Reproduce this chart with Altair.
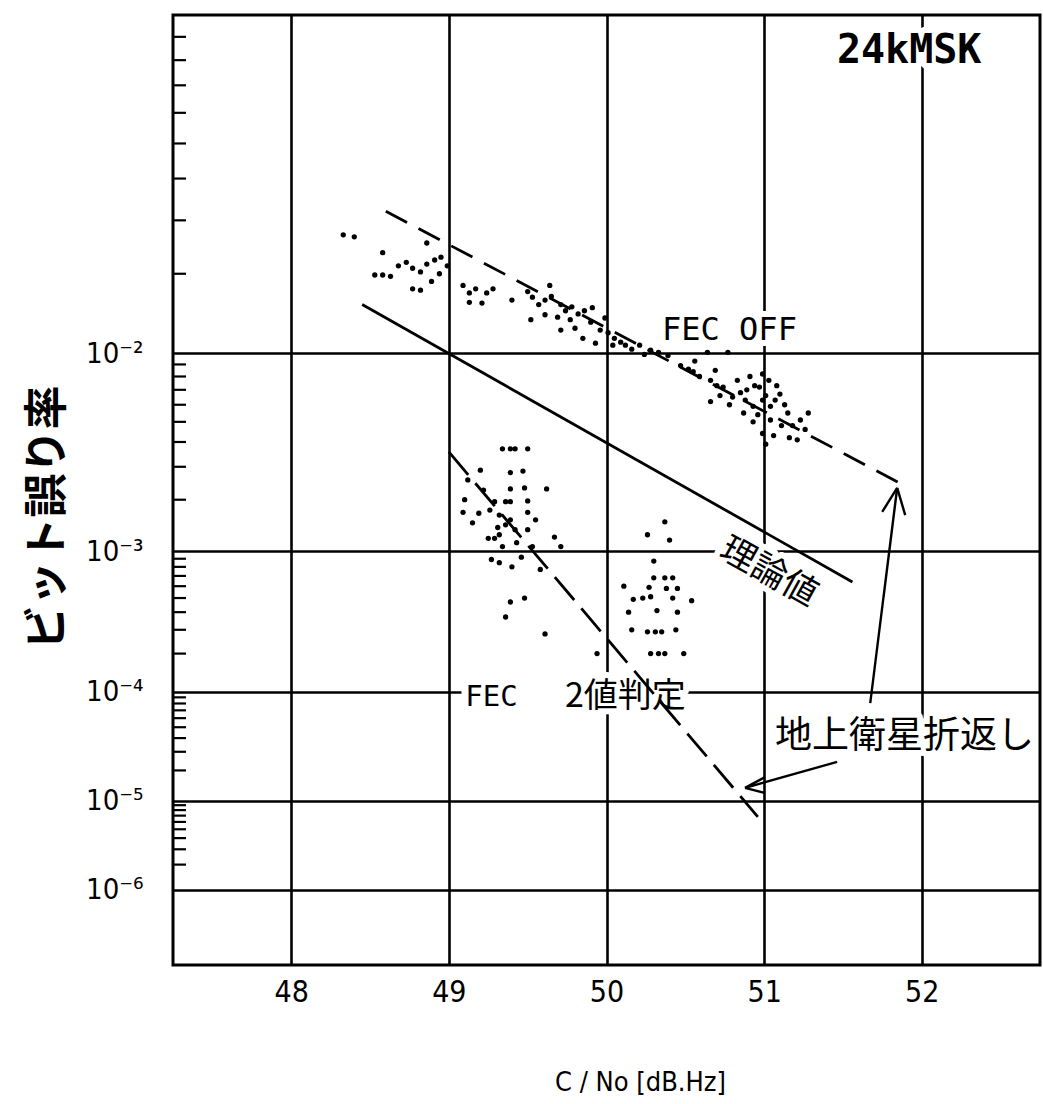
import math
import altair as alt
import pandas as pd

# ---- measured samples: C/No [dB.Hz] and bit error rate ----
fec_off_cn = [48.33, 48.40, 48.58, 48.53, 48.58, 48.63, 48.68, 48.73, 48.77, 48.82,
              48.86, 48.91, 48.95, 48.99, 48.94, 48.89, 48.77, 48.82, 48.86, 49.09,
              49.13, 49.17, 49.13, 49.21, 49.24, 49.28, 49.40, 49.64, 49.50, 49.53,
              49.57, 49.61, 49.65, 49.71, 49.74, 49.78, 49.82, 49.86, 49.77, 49.69,
              49.61, 49.91, 49.96, 50.01, 50.05, 50.09, 50.04, 49.93, 49.85, 49.80,
              49.71, 49.52, 49.90, 49.99, 50.12, 50.16, 50.21, 50.28, 50.33, 50.39,
              50.24, 50.47, 50.52, 50.55, 50.64, 50.77, 50.59, 50.66, 50.70, 50.74,
              50.80, 50.85, 50.89, 50.94, 50.97, 50.99, 51.01, 50.99, 50.93, 50.87,
              51.04, 51.07, 51.10, 51.13, 51.15, 51.18, 50.99, 50.93, 50.66, 51.28,
              51.21, 51.06, 50.78, 50.72, 50.83, 50.91, 51.03, 51.08, 50.96, 51.04,
              51.11, 51.01, 51.16, 50.88, 50.69, 50.56, 51.23, 51.26]
fec_off_ber = [0.027, 0.0266, 0.0236, 0.0198, 0.0198, 0.0196, 0.0213, 0.0219, 0.0209, 0.0203,
               0.0216, 0.0223, 0.0228, 0.0213, 0.0200, 0.0188, 0.0177, 0.0175, 0.0254, 0.0182,
               0.0171, 0.0177, 0.0158, 0.0157, 0.0171, 0.0177, 0.0161, 0.0182, 0.0173, 0.0165,
               0.0155, 0.0161, 0.0166, 0.0155, 0.0147, 0.0152, 0.0143, 0.0147, 0.0136, 0.0139,
               0.0142, 0.0151, 0.0124, 0.0121, 0.0115, 0.0111, 0.0108, 0.0110, 0.0115, 0.0126,
               0.0124, 0.0136, 0.0133, 0.0138, 0.0108, 0.0104, 0.0108, 0.0103, 0.0101, 0.0098,
               0.0099, 0.0089, 0.0086, 0.0084, 0.0101, 0.0101, 0.0080, 0.0077, 0.0073, 0.0072,
               0.0065, 0.0068, 0.0070, 0.0073, 0.0072, 0.0082, 0.0066, 0.0063, 0.0059, 0.0055,
               0.0059, 0.0063, 0.0067, 0.0060, 0.0055, 0.0048, 0.0044, 0.0050, 0.0062, 0.0055,
               0.0041, 0.0043, 0.0060, 0.0066, 0.0077, 0.0080, 0.0077, 0.0073, 0.0054, 0.0051,
               0.0048, 0.0039, 0.0042, 0.0063, 0.0085, 0.0093, 0.0051, 0.0046]

fec_cn = [49.34, 49.39, 49.42, 49.50, 49.20, 49.39, 49.47, 49.12, 49.22, 49.39,
          49.48, 49.62, 49.10, 49.29, 49.36, 49.39, 49.50, 49.09, 49.19, 49.15,
          49.26, 49.32, 49.36, 49.31, 49.39, 49.42, 49.32, 49.50, 49.55, 49.50,
          49.25, 49.29, 49.67, 49.34, 49.43, 49.53, 49.71, 49.27, 49.32, 49.46,
          49.40, 49.58, 49.39, 49.48, 49.36, 49.61,
          50.37, 50.26, 50.40, 50.30, 50.37, 50.42, 50.30, 50.11, 50.27, 50.38,
          50.45, 50.17, 50.23, 50.28, 50.42, 50.54, 50.14, 50.32, 50.45, 50.16,
          50.26, 50.31, 50.35, 50.44, 49.94, 50.28, 50.33, 50.37, 50.49]
fec_ber = [0.0037, 0.0037, 0.0037, 0.0037, 0.00288, 0.0028, 0.00285, 0.00256, 0.00226, 0.00229,
           0.00232, 0.00229, 0.0020, 0.00195, 0.00195, 0.00195, 0.00197, 0.0017, 0.00168, 0.00148,
           0.00175, 0.00164, 0.00144, 0.00139, 0.00154, 0.00135, 0.00126, 0.0017, 0.00154, 0.00135,
           0.0012, 0.0012, 0.00122, 0.00107, 0.00113, 0.00107, 0.00107, 0.00089, 0.00085, 0.00092,
           0.0008, 0.00077, 0.00047, 0.0005, 0.00037, 0.00028,
           0.0015, 0.00126, 0.00117, 0.00087, 0.00068, 0.00068, 0.00068, 0.0006, 0.00059, 0.00058,
           0.00058, 0.00049, 0.0005, 0.00051, 0.0005, 0.00048, 0.0004, 0.00041, 0.0004, 0.0003,
           0.00029, 0.00029, 0.00029, 0.0003, 0.0002, 0.0002, 0.0002, 0.0002, 0.0002]

# ---- straight reference lines (end points) ----
theory_cn = [48.45, 51.56]
theory_ber = [1.55e-2, 6.4e-4]
fec_off_fit_cn = [48.60, 51.91]
fec_off_fit_ber = [3.2e-2, 2.34e-3]
fec_fit_cn = [49.00, 50.96]
fec_fit_ber = [3.57e-3, 6.8e-6]

# ---- axes ----
cn_ticks = [48, 49, 50, 51, 52]
ber_decades = [2, 3, 4, 5, 6]          # 10^-2 ... 10^-6
ber_minor = [m * 10.0 ** -k for k in range(2, 7) for m in range(2, 10)]

# ---- "地上衛星折返し" arrows: segment start / end ----
arrow_cn = [51.673, 51.844, 51.844, 51.463, 50.879, 50.879]
arrow_ber = [8.07e-5, 2.32e-3, 2.32e-3, 2.41e-5, 1.35e-5, 1.35e-5]
arrow_cn2 = [51.844, 51.749, 51.895, 50.879, 51.006, 51.006]
arrow_ber2 = [2.32e-3, 1.71e-3, 1.64e-3, 1.35e-5, 1.73e-5, 1.20e-5]

# blank stretch of the 10^-4 grid line behind the "FEC 2値判定" caption
caption_gap_cn = [49.08, 50.50]
caption_gap_ber = [1e-4, 1e-4]

NARROW = "Liberation Sans Narrow, DejaVu Sans Condensed, Liberation Sans, sans-serif"
MONO = "DejaVu Sans Mono, Liberation Mono, monospace"
CJK = "Noto Sans CJK JP"

# the BER axis is linear in log10(-log10(BER))
T_EXPR = "log(-log(datum.ber) / LN10) / LN10"
T2_EXPR = "log(-log(datum.ber2) / LN10) / LN10"

x_scale = alt.Scale(domain=[47.25, 52.75], nice=False, zero=False)
y_scale = alt.Scale(domain=[0, math.log10(7)], reverse=True, nice=False, zero=False)

x_axis = alt.Axis(
    values=cn_ticks, format="d", grid=True, gridColor="black", gridWidth=2.6,
    gridOpacity=1, ticks=False, domain=False,
    labelFont=NARROW, labelFontSize=30, labelColor="black", labelPadding=12,
    title="C / No [dB.Hz]", titleFont=NARROW, titleFontSize=27,
    titleFontWeight="normal", titleColor="black",
    titleX=467, titleY=117, titleAlign="center", titleBaseline="middle",
)
y_axis = alt.Axis(
    values=[math.log10(k) for k in ber_decades], grid=True, gridColor="black",
    gridWidth=2.6, gridOpacity=1, ticks=False, domain=False,
    labelExpr="'10' + ['⁻²','⁻³','⁻⁴','⁻⁵','⁻⁶'][round(pow(10, datum.value)) - 2]",
    labelFont=NARROW, labelFontSize=29, labelColor="black", labelPadding=30,
    title="ビット誤り率", titleFont=CJK, titleFontSize=44, titleFontWeight="bold",
    titleColor="black", titleAngle=270, titleX=-125, titleY=502,
    titleAlign="center", titleBaseline="middle",
)


def X(field="cn"):
    return alt.X(f"{field}:Q", scale=x_scale, axis=x_axis)


def Y(field="t"):
    return alt.Y(f"{field}:Q", scale=y_scale, axis=y_axis)


def frame(cn, ber):
    return pd.DataFrame({"cn": cn, "ber": ber})


layers = []

# minor ticks on the inner side of the BER axis
minor = alt.Chart(pd.DataFrame({"ber": ber_minor})).transform_calculate(
    t=T_EXPR
).mark_rule(color="black", strokeWidth=2.2).encode(
    y=Y(), x=alt.value(0), x2=alt.value(13)
)
layers.append(minor)

# white stretch under the FEC caption
layers.append(
    alt.Chart(frame(caption_gap_cn, caption_gap_ber)).transform_calculate(t=T_EXPR)
    .mark_line(color="white", strokeWidth=8).encode(x=X(), y=Y())
)

# annotation texts (white halo first, so grid lines break around them)
labels = [
    ("24kMSK", 51.92, 8.4e-2, MONO, 40, "bold", 0),
    ("FEC OFF", 50.78, 1.24e-2, MONO, 32, "normal", 0),
    ("FEC", 49.27, 9.0e-5, MONO, 29, "normal", 0),
    ("2値判定", 50.12, 9.1e-5, CJK, 34, "normal", 0),
    ("地上衛星折返し", 51.89, 4.1e-5, CJK, 37, "normal", 0),
    ("理論値", 51.03, 7.4e-4, CJK, 35, "normal", 29),
]


def text_layer(txt, cn, ber, font, size, weight, angle, halo):
    kw = dict(font=font, fontSize=size, fontWeight=weight, angle=angle,
              align="center", baseline="middle")
    if halo:
        kw.update(color="white", stroke="white", strokeWidth=12, strokeJoin="round")
    else:
        kw.update(color="black")
    return alt.Chart(pd.DataFrame({"cn": [cn], "ber": [ber], "label": [txt]})).transform_calculate(
        t=T_EXPR
    ).mark_text(**kw).encode(x=X(), y=Y(), text="label:N")


for lab in labels:
    layers.append(text_layer(*lab, halo=True))

# theoretical curve and fitted lines
layers.append(
    alt.Chart(frame(theory_cn, theory_ber)).transform_calculate(t=T_EXPR)
    .mark_line(color="black", strokeWidth=2.8).encode(x=X(), y=Y())
)
layers.append(
    alt.Chart(frame(fec_off_fit_cn, fec_off_fit_ber)).transform_calculate(t=T_EXPR)
    .mark_line(color="black", strokeWidth=2.8, strokeDash=[24, 13]).encode(x=X(), y=Y())
)
layers.append(
    alt.Chart(frame(fec_fit_cn, fec_fit_ber)).transform_calculate(t=T_EXPR)
    .mark_line(color="black", strokeWidth=2.8, strokeDash=[30, 11]).encode(x=X(), y=Y())
)

# measured points
for cn, ber in ((fec_off_cn, fec_off_ber), (fec_cn, fec_ber)):
    layers.append(
        alt.Chart(frame(cn, ber)).transform_calculate(t=T_EXPR)
        .mark_circle(color="black", size=28, opacity=1).encode(x=X(), y=Y())
    )

# arrows
layers.append(
    alt.Chart(pd.DataFrame({"cn": arrow_cn, "ber": arrow_ber,
                            "cn2": arrow_cn2, "ber2": arrow_ber2}))
    .transform_calculate(t=T_EXPR, t2=T2_EXPR)
    .mark_rule(color="black", strokeWidth=2.4)
    .encode(x=X(), y=Y(), x2="cn2:Q", y2="t2:Q")
)

for lab in labels:
    layers.append(text_layer(*lab, halo=False))

chart = alt.layer(*layers).properties(
    width=867,
    height=950,
    padding={"left": 173, "top": 15, "right": 3, "bottom": 139},
    autosize=alt.AutoSizeParams(type="none"),
    background="white",
).configure_view(stroke="black", strokeWidth=3)

chart.save("out.html", embed_options={"renderer": "svg", "actions": False})
